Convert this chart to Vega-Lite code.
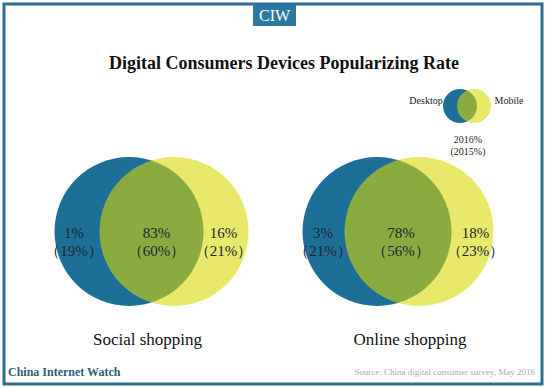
{
  "$schema": "https://vega.github.io/schema/vega-lite/v6.json",
  "width": 546,
  "height": 388,
  "autosize": {"type": "fit", "contains": "padding"},
  "padding": 4,
  "background": "white",
  "config": {
    "view": {"stroke": "#2d6f90", "strokeWidth": 3},
    "text": {"font": "Liberation Serif"}
  },
  "datasets": {
    "circles": [
      {"panel": "Social shopping", "set": "Desktop"},
      {"panel": "Online shopping", "set": "Desktop"},
      {"panel": "Social shopping", "set": "Mobile"},
      {"panel": "Online shopping", "set": "Mobile"}
    ],
    "regions": [
      {"panel": "Social shopping", "region": "Desktop only", "pct2016": 1, "pct2015": 19},
      {"panel": "Social shopping", "region": "Both", "pct2016": 83, "pct2015": 60},
      {"panel": "Social shopping", "region": "Mobile only", "pct2016": 16, "pct2015": 21},
      {"panel": "Online shopping", "region": "Desktop only", "pct2016": 3, "pct2015": 21},
      {"panel": "Online shopping", "region": "Both", "pct2016": 78, "pct2015": 56},
      {"panel": "Online shopping", "region": "Mobile only", "pct2016": 18, "pct2015": 23}
    ],
    "legend": [{"set": "Desktop"}, {"set": "Mobile"}],
    "notes": [{"note": "title"}]
  },
  "resolve": {"scale": {"x": "independent", "y": "independent"}},
  "layer": [
    {
      "data": {"name": "notes"},
      "mark": {"type": "rect", "color": "#2a77a0"},
      "encoding": {"x": {"value": 249}, "x2": {"value": 292}, "y": {"value": 0}, "y2": {"value": 22}}
    },
    {
      "data": {"name": "notes"},
      "mark": {"type": "text", "text": "CIW", "fontSize": 16, "color": "white", "baseline": "middle", "align": "center"},
      "encoding": {"x": {"value": 270.5}, "y": {"value": 11.5}}
    },
    {
      "data": {"name": "notes"},
      "mark": {"type": "text", "text": "Digital Consumers Devices Popularizing Rate", "fontSize": 18, "fontWeight": "bold", "color": "#111111", "baseline": "middle", "align": "center"},
      "encoding": {"x": {"value": 280}, "y": {"value": 60}}
    },
    {
      "data": {"name": "circles"},
      "transform": [{"filter": "datum.set === 'Desktop'"}],
      "mark": {"type": "circle", "size": 22200},
      "encoding": {
        "x": {"field": "panel", "type": "nominal", "axis": null, "scale": {"type": "point", "domain": ["Social shopping", "Online shopping"], "range": [125, 373], "padding": 0}},
        "y": {"value": 227.5},
        "color": {"field": "set", "type": "nominal", "legend": null, "scale": {"domain": ["Desktop", "Mobile"], "range": ["#1e6f98", "#d7d700"]}},
        "opacity": {"field": "set", "type": "nominal", "legend": null, "scale": {"domain": ["Desktop", "Mobile"], "range": [1, 0.58]}}
      }
    },
    {
      "data": {"name": "circles"},
      "transform": [{"filter": "datum.set === 'Mobile'"}],
      "mark": {"type": "circle", "size": 22200},
      "encoding": {
        "x": {"field": "panel", "type": "nominal", "axis": null, "scale": {"type": "point", "domain": ["Social shopping", "Online shopping"], "range": [170, 415], "padding": 0}},
        "y": {"value": 227.5},
        "color": {"field": "set", "type": "nominal", "legend": null},
        "opacity": {"field": "set", "type": "nominal", "legend": null}
      }
    },
    {
      "data": {"name": "regions"},
      "transform": [
        {"filter": "datum.region === 'Desktop only'"},
        {"calculate": "[datum.pct2016 + '%', '（' + datum.pct2015 + '%）']", "as": "label"}
      ],
      "mark": {"type": "text", "fontSize": 15, "lineHeight": 18, "baseline": "middle", "align": "center", "color": "#1c2430"},
      "encoding": {
        "x": {"field": "panel", "type": "nominal", "axis": null, "scale": {"type": "point", "domain": ["Social shopping", "Online shopping"], "range": [70, 319], "padding": 0}},
        "y": {"value": 229},
        "text": {"field": "label", "type": "nominal"}
      }
    },
    {
      "data": {"name": "regions"},
      "transform": [
        {"filter": "datum.region === 'Both'"},
        {"calculate": "[datum.pct2016 + '%', '（' + datum.pct2015 + '%）']", "as": "label"}
      ],
      "mark": {"type": "text", "fontSize": 15, "lineHeight": 18, "baseline": "middle", "align": "center", "color": "#1c2430"},
      "encoding": {
        "x": {"field": "panel", "type": "nominal", "axis": null, "scale": {"type": "point", "domain": ["Social shopping", "Online shopping"], "range": [152.5, 397], "padding": 0}},
        "y": {"value": 229},
        "text": {"field": "label", "type": "nominal"}
      }
    },
    {
      "data": {"name": "regions"},
      "transform": [
        {"filter": "datum.region === 'Mobile only'"},
        {"calculate": "[datum.pct2016 + '%', '（' + datum.pct2015 + '%）']", "as": "label"}
      ],
      "mark": {"type": "text", "fontSize": 15, "lineHeight": 18, "baseline": "middle", "align": "center", "color": "#1c2430"},
      "encoding": {
        "x": {"field": "panel", "type": "nominal", "axis": null, "scale": {"type": "point", "domain": ["Social shopping", "Online shopping"], "range": [219.5, 471.5], "padding": 0}},
        "y": {"value": 229},
        "text": {"field": "label", "type": "nominal"}
      }
    },
    {
      "data": {"name": "regions"},
      "transform": [{"filter": "datum.region === 'Both'"}],
      "mark": {"type": "text", "fontSize": 17, "baseline": "middle", "align": "center", "color": "#111111"},
      "encoding": {
        "x": {"field": "panel", "type": "nominal", "axis": null, "scale": {"type": "point", "domain": ["Social shopping", "Online shopping"], "range": [143.5, 406], "padding": 0}},
        "y": {"value": 336},
        "text": {"field": "panel", "type": "nominal"}
      }
    },
    {
      "data": {"name": "legend"},
      "mark": {"type": "circle", "size": 1156},
      "encoding": {
        "x": {"field": "set", "type": "nominal", "axis": null, "scale": {"type": "point", "domain": ["Desktop", "Mobile"], "range": [456, 470], "padding": 0}},
        "y": {"value": 102},
        "color": {"field": "set", "type": "nominal", "legend": null},
        "opacity": {"field": "set", "type": "nominal", "legend": null}
      }
    },
    {
      "data": {"name": "legend"},
      "mark": {"type": "text", "fontSize": 10, "baseline": "middle", "align": "center", "color": "#222222"},
      "encoding": {
        "x": {"field": "set", "type": "nominal", "axis": null, "scale": {"type": "point", "domain": ["Desktop", "Mobile"], "range": [422, 505], "padding": 0}},
        "y": {"value": 97},
        "text": {"field": "set", "type": "nominal"}
      }
    },
    {
      "data": {"name": "notes"},
      "mark": {"type": "text", "text": ["2016%", "(2015%)"], "fontSize": 10, "lineHeight": 12.5, "baseline": "middle", "align": "center", "color": "#222222"},
      "encoding": {"x": {"value": 464}, "y": {"value": 135.5}}
    },
    {
      "data": {"name": "notes"},
      "mark": {"type": "text", "text": "China Internet Watch", "fontSize": 12, "fontWeight": "bold", "baseline": "middle", "align": "left", "color": "#2f5e77"},
      "encoding": {"x": {"value": 4}, "y": {"value": 368}}
    },
    {
      "data": {"name": "notes"},
      "mark": {"type": "text", "text": "Source: China digital consumer survey, May 2016", "fontSize": 9, "baseline": "middle", "align": "right", "color": "#aaaaaa"},
      "encoding": {"x": {"value": 531}, "y": {"value": 368}}
    }
  ]
}
